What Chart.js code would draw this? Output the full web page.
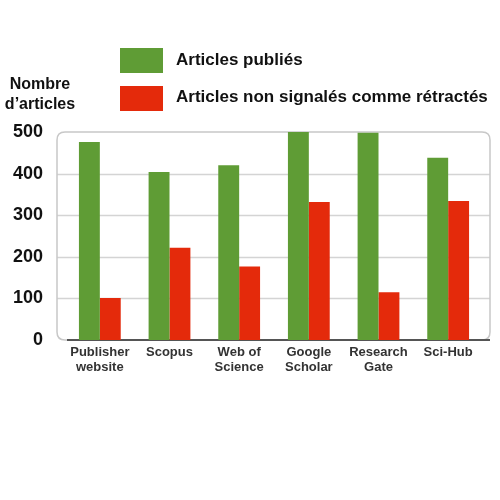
<!DOCTYPE html>
<html>
<head>
<meta charset="utf-8">
<script src="https://cdn.jsdelivr.net/npm/chart.js@4"></script>
<style>
  html, body { margin: 0; padding: 0; background: #fff; }
  #wrap { position: relative; width: 500px; height: 500px; font-family: "Liberation Sans", Arial, sans-serif; font-weight: bold; }
  #canvas { position: absolute; left: 0; top: 0; }
  .ytitle { position: absolute; left: 0px; top: 74px; width: 80px; text-align: center; font-size: 16px; line-height: 20px; color: #111; }
  .leg { position: absolute; left: 120px; width: 43px; height: 25px; }
  .legtxt { position: absolute; left: 176px; font-size: 17px; color: #111; white-space: nowrap; }
</style>
</head>
<body>
<div id="wrap">
  <canvas id="canvas" width="500" height="500"></canvas>
  <div class="ytitle">Nombre<br>d’articles</div>
  <div class="leg" id="leg0" style="top:48px"></div>
  <div class="legtxt" id="legt0" style="top:50px"></div>
  <div class="leg" id="leg1" style="top:86px"></div>
  <div class="legtxt" id="legt1" style="top:87px"></div>
</div>
<script>
const categories = [['Publisher', 'website'], 'Scopus', ['Web of', 'Science'], ['Google', 'Scholar'], ['Research', 'Gate'], 'Sci-Hub'];
const published = [476, 404, 420, 500, 498, 438];
const notFlagged = [101, 222, 177, 332, 115, 334];
const seriesLabels = ['Articles publiés', 'Articles non signalés comme rétractés'];
const seriesColors = ['#5f9c35', '#e42a0b'];
const yTicks = [0, 100, 200, 300, 400, 500];

// rounded grey frame + grid lines behind the bars
const framePlugin = {
  id: 'frame',
  beforeDatasetsDraw(chart) {
    const a = chart.chartArea, c = chart.ctx, y = chart.scales.y;
    const l = a.left - 8, r = a.right + 7, t = a.top, b = a.bottom, rad = 8;
    c.save();
    c.strokeStyle = '#d4d4d4';
    c.lineWidth = 1.5;
    yTicks.slice(1, -1).forEach(v => {
      const py = Math.round(y.getPixelForValue(v)) + 0.5;
      c.beginPath();
      c.moveTo(l, py);
      c.lineTo(r, py);
      c.stroke();
    });
    c.strokeStyle = '#c8c8c8';
    c.beginPath();
    c.moveTo(l + rad, t);
    c.lineTo(r - rad, t);
    c.quadraticCurveTo(r, t, r, t + rad);
    c.lineTo(r, b - rad);
    c.quadraticCurveTo(r, b, r - rad, b);
    c.lineTo(l + rad, b);
    c.quadraticCurveTo(l, b, l, b - rad);
    c.lineTo(l, t + rad);
    c.quadraticCurveTo(l, t, l + rad, t);
    c.stroke();
    c.strokeStyle = '#555';
    c.lineWidth = 2;
    c.beginPath();
    c.moveTo(l + 10, b);
    c.lineTo(r, b);
    c.stroke();
    c.restore();
  }
};

const chart = new Chart(document.getElementById('canvas'), {
  type: 'bar',
  data: {
    labels: categories,
    datasets: [
      { label: seriesLabels[0], data: published, backgroundColor: seriesColors[0] },
      { label: seriesLabels[1], data: notFlagged, backgroundColor: seriesColors[1] }
    ]
  },
  options: {
    responsive: false,
    animation: false,
    layout: { padding: { top: 132, left: 12, right: 17, bottom: 120 } },
    datasets: { bar: { barPercentage: 1, categoryPercentage: 0.6 } },
    plugins: { legend: { display: false }, tooltip: { enabled: false } },
    scales: {
      x: {
        grid: { display: false, drawTicks: false },
        border: { display: false },
        ticks: { padding: 5, maxRotation: 0, autoSkip: false, color: '#333', font: { family: 'Liberation Sans', size: 13, weight: 'bold', lineHeight: 1.15 } }
      },
      y: {
        min: 0,
        max: 500,
        afterBuildTicks(axis) { axis.ticks = yTicks.map(v => ({ value: v })); },
        afterFit(axis) { axis.width = 53; },
        grid: { display: false, drawTicks: false },
        border: { display: false },
        ticks: { padding: 22, color: '#111', font: { family: 'Liberation Sans', size: 18, weight: 'bold' } }
      }
    }
  },
  plugins: [framePlugin]
});

for (let i = 0; i < seriesLabels.length; i++) {
  document.getElementById('leg' + i).style.background = seriesColors[i];
  document.getElementById('legt' + i).textContent = seriesLabels[i];
}
</script>
</body>
</html>
